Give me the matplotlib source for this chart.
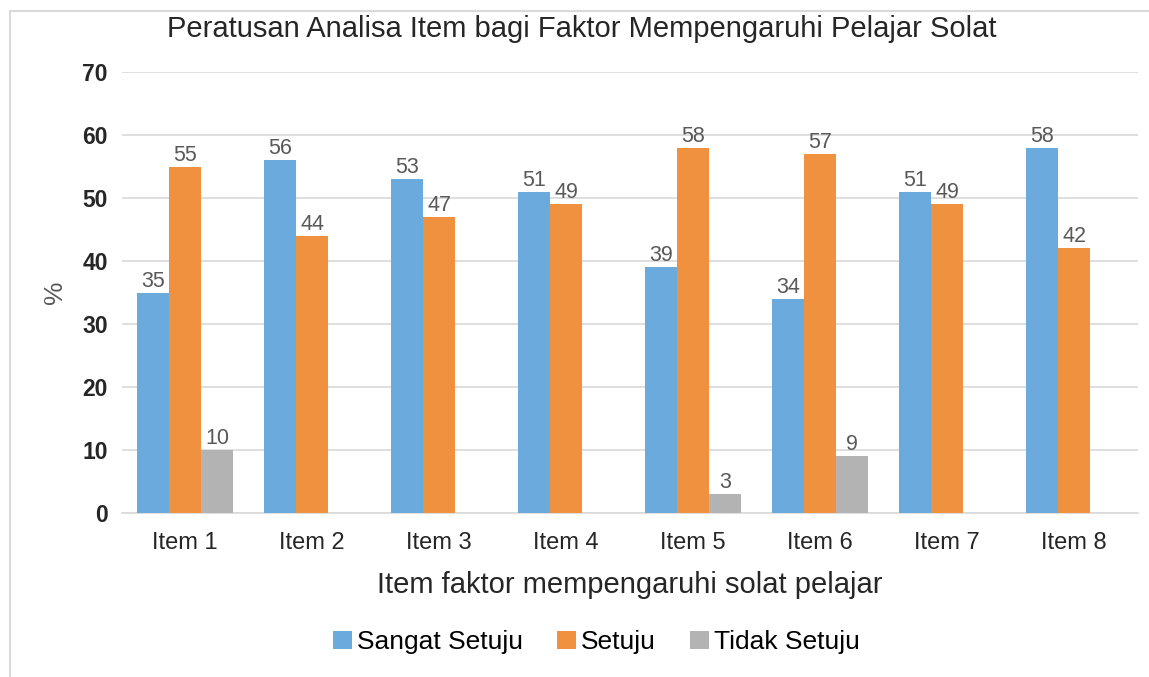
import matplotlib
matplotlib.use("Agg")
import matplotlib.pyplot as plt
from matplotlib.patches import Rectangle
import numpy as np

plt.rcParams['font.family'] = ['Liberation Sans', 'DejaVu Sans']

categories = ["Item 1", "Item 2", "Item 3", "Item 4", "Item 5", "Item 6", "Item 7", "Item 8"]
sangat_setuju = [35, 56, 53, 51, 39, 34, 51, 58]
setuju = [55, 44, 47, 49, 58, 57, 49, 42]
tidak_setuju = [10, 0, 0, 0, 3, 9, 0, 0]
series_names = ["Sangat Setuju", "Setuju", "Tidak Setuju"]
colors = ["#6aaadc", "#f09140", "#b3b3b3"]

fig = plt.figure(figsize=(11.49, 6.77), dpi=100)
ax = fig.add_axes([0.106, 0.2422, 0.884, 0.6514])

x = np.arange(len(categories))
w = 0.253
for i, (vals, name, c) in enumerate(zip([sangat_setuju, setuju, tidak_setuju], series_names, colors)):
    pos = x + (i - 1) * w
    bars = ax.bar(pos, vals, w, color=c, label=name, zorder=3)
    for b, v in zip(bars, vals):
        if v > 0:
            ax.text(b.get_x() + b.get_width() / 2, v + 0.15, str(v), ha='center', va='bottom',
                    fontsize=15.5, color='#595959', zorder=4)

ax.set_xlim(-0.5, 7.5)
ax.set_ylim(0, 70)
ax.set_yticks(range(0, 71, 10))
ax.set_xticks(x)
ax.set_xticklabels(categories, fontsize=17, color='#262626')
for lbl in ax.get_yticklabels():
    lbl.set_fontweight('bold')
    lbl.set_fontsize(16.5)
    lbl.set_color('#262626')
ax.tick_params(axis='both', length=0)
ax.tick_params(axis='y', pad=10)
ax.tick_params(axis='x', pad=14)
ax.grid(axis='y', color='#d9d9d9', linewidth=1.2, zorder=0)
for s in ['top', 'right', 'left']:
    ax.spines[s].set_visible(False)
ax.spines['bottom'].set_color('#d9d9d9')
ax.spines['bottom'].set_linewidth(1.2)

fig.text(582 / 1149, 1 - 29 / 677, "Peratusan Analisa Item bagi Faktor Mempengaruhi Pelajar Solat",
         fontsize=21, color='#262626', ha='center', va='center')
ax.set_xlabel("Item faktor mempengaruhi solat pelajar", fontsize=21, color='#262626', labelpad=12)
ax.set_ylabel("%", fontsize=19, color='#595959', labelpad=11)

ax.legend(loc='center', bbox_to_anchor=(0.4675, -0.293), ncol=3, frameon=False,
          fontsize=19, handlelength=0.7, handleheight=0.7, handletextpad=0.2,
          columnspacing=1.3)

fig.patches.append(Rectangle((10 / 1149, -0.1), 1.2, 1.1 - 11 / 677, transform=fig.transFigure,
                             fill=False, edgecolor='#d9d9d9', linewidth=1.5))

fig.savefig("out.png", dpi=100)
